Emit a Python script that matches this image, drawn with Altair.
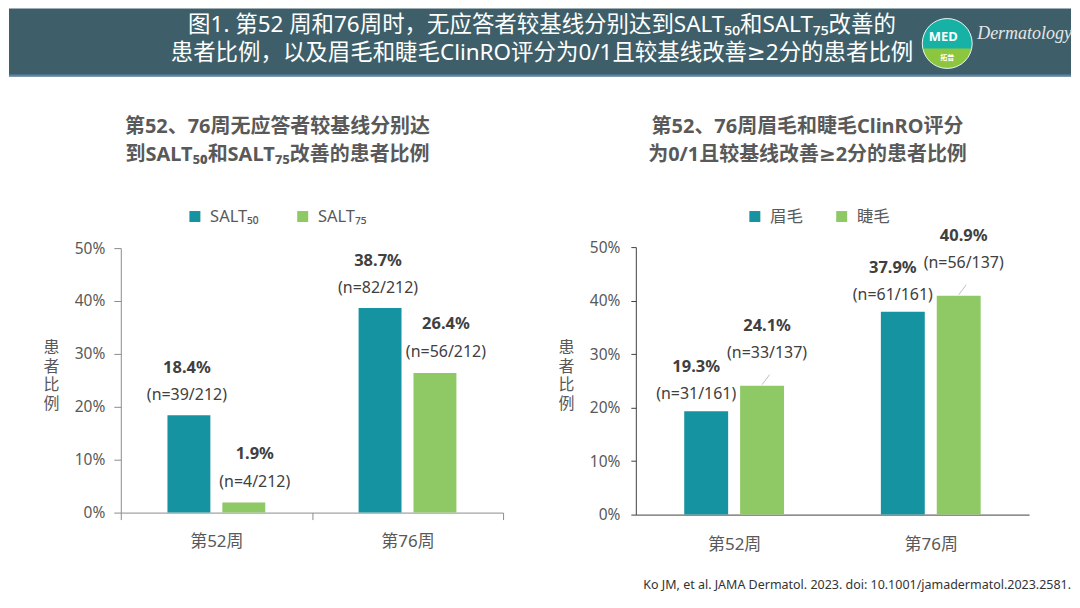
import altair as alt
import pandas as pd

FONT = "Noto Sans, DejaVu Sans, Noto Sans CJK SC"

# ---------------- data ----------------
weeks = ["第52周", "第76周"]

salt_series = ["SALT₅₀", "SALT₇₅"]
salt50_pct = [0.184, 0.387]
salt75_pct = [0.019, 0.264]
salt50_n = ["(n=39/212)", "(n=82/212)"]
salt75_n = ["(n=4/212)", "(n=56/212)"]

clinro_series = ["眉毛", "睫毛"]
brow_pct = [0.193, 0.379]
lash_pct = [0.241, 0.409]
brow_n = ["(n=31/161)", "(n=61/161)"]
lash_n = ["(n=33/137)", "(n=56/137)"]

y_ticks = [0, 0.1, 0.2, 0.3, 0.4, 0.5]

header_lines = [
    "图1. 第52 周和76周时，无应答者较基线分别达到SALT₅₀和SALT₇₅改善的",
    "患者比例，以及眉毛和睫毛ClinRO评分为0/1且较基线改善≥2分的患者比例",
]
left_title = ["第52、76周无应答者较基线分别达", "到SALT₅₀和SALT₇₅改善的患者比例"]
right_title = ["第52、76周眉毛和睫毛ClinRO评分", "为0/1且较基线改善≥2分的患者比例"]
y_title = ["患", "者", "比", "例"]
citation = "Ko JM, et al. JAMA Dermatol. 2023. doi: 10.1001/jamadermatol.2023.2581."
brand = "Dermatology"
logo_top = "MED"
logo_bottom = "拓普"

TEAL = "#1693a0"
GREEN = "#8ec965"
TXT = "#595959"
DARK = "#404040"


def table(series, a, b, na, nb):
    rows = []
    for i, w in enumerate(weeks):
        rows.append({"week": w, "series": series[0], "value": a[i], "n": na[i]})
        rows.append({"week": w, "series": series[1], "value": b[i], "n": nb[i]})
    return pd.DataFrame(rows)


one = pd.DataFrame({"k": [0]})

PANEL_H = 518


def panel(df, series, width, x_range, y_range, xo_range, xo_inner, axis_color,
          x_ticks, y_tick_size, y_label_pad, x_label_pad, title_lines, title_x,
          legend_x, col_pad, styles, leader=False, extra=None):
    x_enc = alt.X(
        "week:N", sort=weeks,
        scale=alt.Scale(domain=weeks, range=x_range, paddingInner=0, paddingOuter=0),
        axis=alt.Axis(
            title=None, offset=-(PANEL_H - y_range[0]), labelAngle=0,
            labelFontSize=17, labelColor=TXT, labelFont=FONT,
            domainColor=axis_color, domainWidth=1, ticks=x_ticks,
            tickBand="extent", tickSize=7 if x_ticks else 0, tickColor=axis_color,
            labelPadding=x_label_pad, grid=False,
        ),
    )
    y_enc = alt.Y(
        "value:Q",
        scale=alt.Scale(domain=[0, 0.5], range=y_range, nice=False),
        axis=alt.Axis(
            values=y_ticks, format=".0%", offset=-x_range[0],
            tickSize=y_tick_size, tickColor=axis_color, domainColor=axis_color,
            domainWidth=1, labelPadding=y_label_pad, labelFontSize=15.5,
            labelColor=TXT, labelFont=FONT, grid=False,
            title=y_title, titleAngle=0, titleX=-70, titleY=264,
            titleAlign="center", titleBaseline="top", titleFontSize=16,
            titleFontWeight="normal", titleColor=TXT, titleFont=FONT,
            titleLineHeight=18.5,
        ),
    )
    xo_enc = alt.XOffset(
        "series:N", sort=series,
        scale=alt.Scale(domain=series, range=xo_range, paddingInner=xo_inner, paddingOuter=0),
    )
    color = alt.Color(
        "series:N", sort=series,
        scale=alt.Scale(domain=series, range=[TEAL, GREEN]),
        legend=alt.Legend(
            title=None, orient="none", legendX=legend_x, legendY=132,
            direction="horizontal", symbolType="square", symbolSize=121,
            symbolStrokeWidth=0, labelFontSize=16.5, labelColor=TXT, labelFont=FONT,
            columnPadding=col_pad, labelOffset=7,
        ),
    )
    base = alt.Chart(df)
    layers = [base.mark_bar().encode(x=x_enc, y=y_enc, xOffset=xo_enc, color=color)]
    for sname, (dx, dy_n, dy_p) in zip(series, styles):
        sub = base.transform_filter(alt.datum.series == sname)
        layers.append(
            sub.mark_text(fontSize=16.5, fontWeight="bold", color=DARK, font=FONT,
                          dx=dx, dy=dy_p, baseline="middle")
            .encode(x=x_enc, y=y_enc, xOffset=xo_enc,
                    text=alt.Text("value:Q", format=".1%"))
        )
        layers.append(
            sub.mark_text(fontSize=16, color=DARK, font=FONT, dx=dx, dy=dy_n,
                          baseline="middle")
            .encode(x=x_enc, y=y_enc, xOffset=xo_enc, text="n:N")
        )
    if leader:
        sub = base.transform_filter(alt.datum.series == series[1])
        layers.append(
            sub.mark_point(shape="M0,-0.1L0.75,-1.1", filled=False, stroke="#bfbfbf",
                           strokeWidth=1, size=400, opacity=1)
            .encode(x=x_enc, y=y_enc, xOffset=xo_enc)
        )
    layers.append(
        alt.Chart(one).mark_text(fontSize=20, fontWeight="bold", color=TXT, font=FONT,
                                 align="center", baseline="middle", lineHeight=28)
        .encode(x=alt.value(title_x), y=alt.value(51), text=alt.value(title_lines))
    )
    if extra is not None:
        layers.extend(extra)
    return alt.layer(*layers).properties(width=width, height=PANEL_H)


left_df = table(salt_series, salt50_pct, salt75_pct, salt50_n, salt75_n)
right_df = table(clinro_series, brow_pct, lash_pct, brow_n, lash_n)

left = panel(
    left_df, salt_series, 520, [112, 495], [437, 172], [46.75, 144.75], 0.218,
    "#8c8c8c", True, 7, 9, 14, left_title, 269, 178, 35,
    [(-2, -20, -47), (11, -21, -49)],
)

footer = (
    alt.Chart(one).mark_text(align="right", baseline="middle", fontSize=12.5,
                             color="#333333", font="Noto Sans")
    .encode(x=alt.value(544), y=alt.value(510), text=alt.value(citation))
)

right = panel(
    right_df, clinro_series, 544, [108, 502], [439, 171], [48.5, 148.5], 0.214,
    "#404040", False, 5, 11, 22, right_title, 280, 219, 30,
    [(-10, -17, -44), (5, -33, -60)], leader=True, extra=[footer],
)

# ---------------- header ----------------
HW, HH = 1064, 68
header = alt.layer(
    alt.Chart(one).mark_rect(color="#3e5f69")
    .encode(x=alt.value(0), x2=alt.value(HW), y=alt.value(0), y2=alt.value(HH)),
    alt.Chart(one).mark_rule(color="#5f83a8", strokeWidth=2)
    .encode(x=alt.value(0), x2=alt.value(HW), y=alt.value(HH - 1)),
    alt.Chart(one).mark_text(fontSize=22.5, color="white", font=FONT, align="center",
                             baseline="middle", lineHeight=29)
    .encode(x=alt.value(534), y=alt.value(16), text=alt.value(header_lines)),
    alt.Chart(one).mark_point(shape="circle", filled=True, color="#8cc63e", size=2500,
                              opacity=1, strokeWidth=0)
    .encode(x=alt.value(940), y=alt.value(35)),
    alt.Chart(one).mark_point(shape="M-0.98,0.2A1,1,0,1,1,0.98,0.2Z", filled=True,
                              color="#16b2a6", size=2500, opacity=1, strokeWidth=0)
    .encode(x=alt.value(940), y=alt.value(35)),
    alt.Chart(one).mark_point(shape="circle", filled=False, stroke="#e8f4f2", size=2500,
                              opacity=1, strokeWidth=1)
    .encode(x=alt.value(940), y=alt.value(35)),
    alt.Chart(one).mark_text(fontSize=13, fontWeight="bold", color="white", font=FONT,
                             align="center", baseline="middle")
    .encode(x=alt.value(936), y=alt.value(29), text=alt.value(logo_top)),
    alt.Chart(one).mark_text(fontSize=7, fontWeight="bold", color="white", font=FONT,
                             align="center", baseline="middle")
    .encode(x=alt.value(940), y=alt.value(50), text=alt.value(logo_bottom)),
    alt.Chart(one).mark_text(fontSize=18, fontStyle="italic", color="#e6e6e6",
                             font="Liberation Serif", align="left", baseline="middle")
    .encode(x=alt.value(970), y=alt.value(26), text=alt.value(brand)),
).properties(width=HW, height=HH)

body = (
    alt.hconcat(left, right, spacing=0)
    .resolve_scale(color="independent", xOffset="independent")
    .resolve_legend(color="independent")
)

chart = (
    alt.vconcat(header, body, spacing=0)
    .properties(padding=0)
    .configure(font=FONT)
    .configure_view(stroke=None)
)

chart.save("out.html", embed_options={"renderer": "svg", "actions": False})
